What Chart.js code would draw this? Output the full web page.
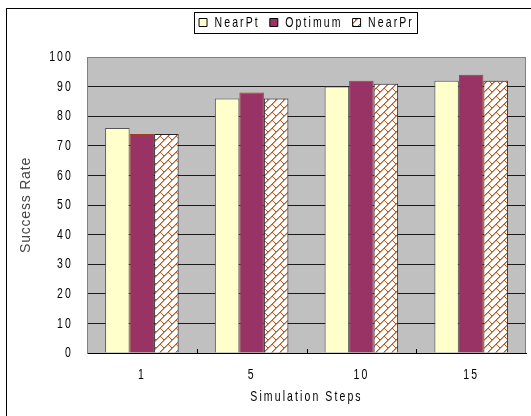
<!DOCTYPE html>
<html><head><meta charset="utf-8">
<script src="https://cdn.jsdelivr.net/npm/chart.js@4"></script>
<style>html,body{margin:0;padding:0;background:#fff;} #wrap{width:531px;height:416px;position:relative;}</style>
</head><body><div id="wrap"><canvas id="c"></canvas></div>
<script>
const categories = ['1', '5', '10', '15'];
const nearPt = [76, 86, 90, 92];
const optimum = [74, 88, 92, 94];
const nearPr = [74, 86, 91, 92];
const seriesNames = ['NearPt', 'Optimum', 'NearPr'];
const yTitle = 'Success Rate';
const xTitle = 'Simulation Steps';
const yTicks = [0, 10, 20, 30, 40, 50, 60, 70, 80, 90, 100];

const FONT = "'Liberation Sans', Arial, sans-serif";
const SPACING = '3px';
const SX = 0.7;

const canvas = document.getElementById('c');
const cctx = canvas.getContext('2d');
(function patch(ctx) {
  const of = CanvasRenderingContext2D.prototype.fillText;
  const om = CanvasRenderingContext2D.prototype.measureText;
  ctx.fillText = function (t, x, y, mw) {
    this.save();
    this.translate(x, y);
    let sx = SX;
    if (t === yTitle) { sx = 1; this.letterSpacing = '0.8px'; }
    this.scale(sx, 1);
    if (mw !== undefined && mw !== null) of.call(this, t, 0, 0, mw / sx); else of.call(this, t, 0, 0);
    this.restore();
  };
  ctx.measureText = function (t) {
    const m = om.call(this, t);
    const sx = t === yTitle ? 1 : SX;
    return {
      width: m.width * sx,
      actualBoundingBoxAscent: m.actualBoundingBoxAscent,
      actualBoundingBoxDescent: m.actualBoundingBoxDescent,
      actualBoundingBoxLeft: m.actualBoundingBoxLeft * sx,
      actualBoundingBoxRight: m.actualBoundingBoxRight * sx,
      fontBoundingBoxAscent: m.fontBoundingBoxAscent,
      fontBoundingBoxDescent: m.fontBoundingBoxDescent
    };
  };
})(cctx);

function makePattern() {
  const t = document.createElement('canvas'); t.width = 16; t.height = 16;
  const g = t.getContext('2d');
  const img = g.createImageData(16, 16);
  for (let y = 0; y < 16; y++) for (let x = 0; x < 16; x++) {
    const i = (y * 16 + x) * 4;
    let col = [255, 255, 255];
    const sm = (x + y) % 8;
    const band = Math.floor((x + y + 1) / 8) % 2;
    const d = ((x - y) % 16 + 16) % 16;
    let main = sm === 7;
    if ((d === 0 && band === 0) || (d === 8 && band === 1)) main = true;
    if (main) col = [180, 88, 42];
    else if (sm === 0) col = [222, 165, 130];
    img.data[i] = col[0]; img.data[i + 1] = col[1]; img.data[i + 2] = col[2]; img.data[i + 3] = 255;
  }
  g.putImageData(img, 0, 0);
  return cctx.createPattern(t, 'repeat');
}
const brick = makePattern();

const framePlugin = {
  id: 'frame',
  beforeUpdate(c) { c.ctx.letterSpacing = SPACING; },
  beforeLayout(c) { c.ctx.letterSpacing = SPACING; },
  beforeDraw(c) {
    const ctx = c.ctx;
    ctx.letterSpacing = SPACING;
    ctx.save();
    ctx.fillStyle = '#fff';
    ctx.fillRect(0, 0, c.width, c.height);
    ctx.strokeStyle = '#000'; ctx.lineWidth = 1;
    ctx.strokeRect(6.5, 8.5, c.width + 20, c.height + 20);
    const a = c.chartArea;
    ctx.fillStyle = '#C0C0C0';
    ctx.fillRect(a.left, a.top, a.right - a.left, a.bottom - a.top);
    ctx.restore();
  },
  afterDatasetsDraw(c) {
    const ctx = c.ctx, a = c.chartArea, xs = c.scales.x;
    ctx.save();
    ctx.strokeStyle = '#808080'; ctx.lineWidth = 1;
    ctx.beginPath();
    ctx.moveTo(a.right - 0.5, a.top); ctx.lineTo(a.right - 0.5, a.bottom);
    ctx.stroke();
    ctx.strokeStyle = '#000';
    ctx.beginPath();
    for (let i = 1; i < categories.length; i++) {
      const x = Math.round((xs.getPixelForValue(i - 1) + xs.getPixelForValue(i)) / 2) + 0.5;
      ctx.moveTo(x, a.bottom); ctx.lineTo(x, a.bottom - 4);
    }
    ctx.stroke();
    const lg = c.legend;
    if (lg && lg.legendHitBoxes && lg.legendHitBoxes.length) {
      const hb = lg.legendHitBoxes;
      const l = Math.min(...hb.map(h => h.left)) - 5;
      const r = Math.max(...hb.map(h => h.left + h.width)) + 3;
      const t = Math.min(...hb.map(h => h.top)) - 3;
      const b = Math.max(...hb.map(h => h.top + h.height)) + 3;
      ctx.strokeStyle = '#000';
      ctx.strokeRect(Math.round(l) + 0.5, Math.round(t) + 0.5, Math.round(r - l), Math.round(b - t));
    }
    ctx.restore();
  }
};

new Chart(canvas, {
  type: 'bar',
  data: {
    labels: categories,
    datasets: [
      { label: seriesNames[0], data: nearPt, backgroundColor: '#FFFFCC', borderColor: '#555555', borderWidth: 1 },
      { label: seriesNames[1], data: optimum, backgroundColor: '#993366', borderColor: '#A0401A', borderWidth: 1 },
      { label: seriesNames[2], data: nearPr, backgroundColor: brick, borderColor: '#222222', borderWidth: 1 }
    ]
  },
  options: {
    responsive: true, maintainAspectRatio: false, animation: false, devicePixelRatio: 1,
    datasets: { bar: { barPercentage: 1, categoryPercentage: 0.67 } },
    layout: { padding: { left: 0, right: 5, top: 5, bottom: 0 } },
    plugins: {
      title: { display: true, text: '', weight: 500, fullSize: false, font: { size: 10 }, padding: { top: 0, bottom: 5 } },
      legend: {
        position: 'top', fullSize: false,
        labels: {
          boxWidth: 8, boxHeight: 8, padding: 10, color: '#000',
          font: { family: FONT, size: 15 },
          generateLabels(chart) {
            const items = Chart.defaults.plugins.legend.labels.generateLabels(chart);
            items.forEach(it => { it.strokeStyle = '#000'; it.lineWidth = 1; });
            return items;
          }
        }
      },
      tooltip: { enabled: false }
    },
    scales: {
      x: {
        afterFit(s) { s.height = 63; },
        grid: { display: false, drawTicks: false },
        border: { display: true, color: '#000', width: 1 },
        ticks: { color: '#000', font: { family: FONT, size: 15 }, padding: 13 },
        title: { display: true, text: xTitle, color: '#000', font: { family: FONT, size: 15 }, padding: { top: 4, bottom: 10 } }
      },
      y: {
        min: yTicks[0], max: yTicks[yTicks.length - 1],
        afterBuildTicks(s) { s.ticks = yTicks.map(v => ({ value: v })); },
        afterFit(s) { s.width = 87; },
        ticks: { color: '#000', font: { family: FONT, size: 15 }, padding: 14 },
        grid: { drawTicks: false, lineWidth: 1, color: (ctx) => ctx.tick && ctx.tick.value === 100 ? '#808080' : '#1a1a1a' },
        border: { color: '#808080' },
        title: { display: true, text: yTitle, color: '#444', font: { family: FONT, size: 14 }, padding: { top: 18, bottom: 10 } }
      }
    }
  },
  plugins: [framePlugin]
});
</script></body></html>
